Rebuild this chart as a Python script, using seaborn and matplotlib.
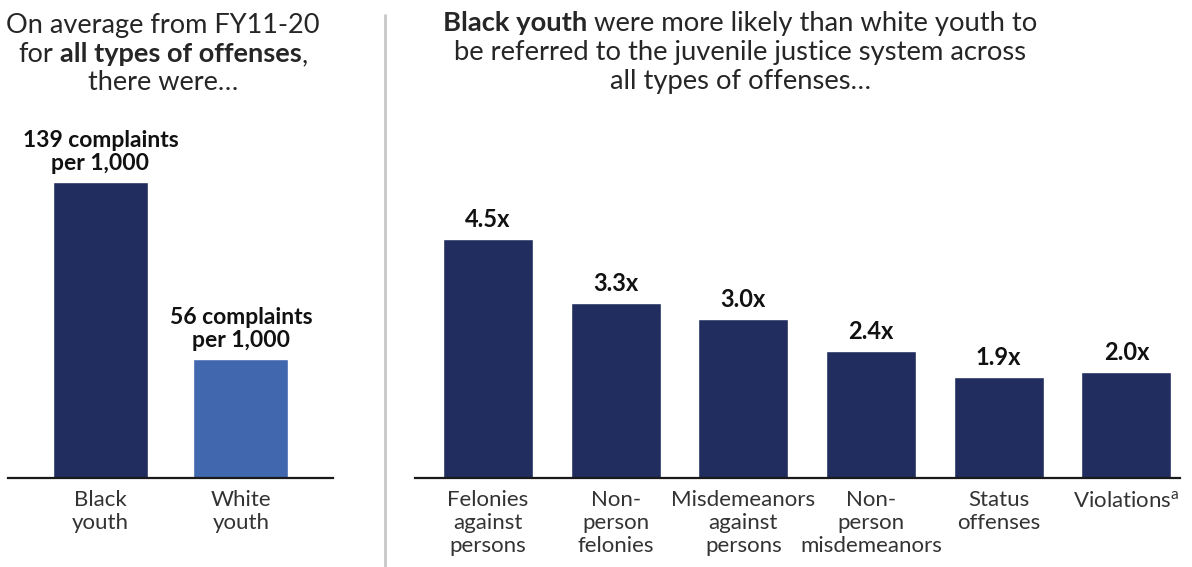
import matplotlib
matplotlib.use("Agg")
from matplotlib import pyplot as plt
from matplotlib.lines import Line2D
import pandas as pd
import seaborn as sns

# data
groups = ["Black\nyouth", "White\nyouth"]
rates = [139, 56]
rate_labels = ["139 complaints\nper 1,000", "56 complaints\nper 1,000"]

offenses = [
    "Felonies\nagainst\npersons",
    "Non-\nperson\nfelonies",
    "Misdemeanors\nagainst\npersons",
    "Non-\nperson\nmisdemeanors",
    "Status\noffenses",
    "Violations$^{\\mathrm{a}}$",
]
ratios = [4.5, 3.3, 3.0, 2.4, 1.9, 2.0]
ratio_labels = ["4.5x", "3.3x", "3.0x", "2.4x", "1.9x", "2.0x"]

NAVY = "#212D5E"
BLUE = "#4168AF"
TXT = "#262626"

sns.set_theme(style="white")
plt.rcParams["font.family"] = ["Lato", "DejaVu Sans"]
plt.rcParams["mathtext.fontset"] = "custom"
plt.rcParams["mathtext.rm"] = "Lato"

W, H = 1192, 567
fig = plt.figure(figsize=(W / 100, H / 100), dpi=100)


def px_axes(x0, x1, y_top, y_bot):
    return fig.add_axes([x0 / W, 1 - y_bot / H, (x1 - x0) / W, (y_bot - y_top) / H])


ax_l = px_axes(8, 333, 120, 478)
ax_r = px_axes(415, 1180, 120, 478)

df_l = pd.DataFrame({"group": groups, "rate": rates})
df_r = pd.DataFrame({"offense": offenses, "ratio": ratios})

sns.barplot(data=df_l, x="group", y="rate", hue="group", palette=[NAVY, BLUE],
            width=0.676, saturation=1, legend=False, ax=ax_l)
sns.barplot(data=df_r, x="offense", y="ratio", color=NAVY,
            width=0.705, saturation=1, ax=ax_r)

ax_l.set_xlim(-0.658, 1.655)
ax_l.set_ylim(0, 358 / 2.13)
ax_r.set_xlim(-0.572, 5.42)
ax_r.set_ylim(0, 358 / 53.1)

for ax in (ax_l, ax_r):
    ax.set_xlabel("")
    ax.set_ylabel("")
    ax.set_yticks([])
    for s in ("top", "right", "left"):
        ax.spines[s].set_visible(False)
    ax.spines["bottom"].set_color("#1a1a1a")
    ax.spines["bottom"].set_linewidth(1.6)
    ax.tick_params(axis="x", length=0, pad=9, labelsize=16, labelcolor="#333333")
    plt.setp(ax.get_xticklabels(), linespacing=1.18)
    ax.set_facecolor("none")

# value labels above bars
for i, (v, lab) in enumerate(zip(rates, rate_labels)):
    ax_l.annotate(lab, (i, v), xytext=(0, 8.5), textcoords="offset points",
                  ha="center", va="baseline", fontsize=16.5, fontweight="bold",
                  color="#111111", linespacing=1.12)
for i, (v, lab) in enumerate(zip(ratios, ratio_labels)):
    ax_r.annotate(lab, (i, v), xytext=(0, 8.5), textcoords="offset points",
                  ha="center", va="baseline", fontsize=17, fontweight="bold",
                  color="#111111")


# titles with mixed weights
fig.canvas.draw()
renderer = fig.canvas.get_renderer()


def mixed_line(xc, y_px, parts, size=19):
    texts = []
    for s, w in parts:
        texts.append(fig.text(0, 1 - y_px / H, s, fontsize=size, fontweight=w,
                              color=TXT, va="baseline", ha="left"))
    probe_a = fig.text(0, 0, "x x", fontsize=size)
    probe_b = fig.text(0, 0, "xx", fontsize=size)
    space = (probe_a.get_window_extent(renderer).width
             - probe_b.get_window_extent(renderer).width)
    probe_a.remove()
    probe_b.remove()
    widths = []
    for t, (s, w) in zip(texts, parts):
        t.set_text(s.strip())
        wd = t.get_window_extent(renderer).width if s.strip() else 0
        wd += space * (len(s) - len(s.lstrip())) + space * (len(s) - len(s.rstrip()))
        widths.append(wd)
    x = xc - sum(widths) / 2
    for t, (s, w), wd in zip(texts, parts, widths):
        t.set_x((x + space * (len(s) - len(s.lstrip()))) / W)
        x += wd


mixed_line(163, 33, [("On average from FY11-20", "normal")], size=19.5)
mixed_line(163, 62, [("for ", "normal"), ("all types of offenses", "bold"), (",", "normal")], size=19.5)
mixed_line(163, 90, [("there were…", "normal")], size=19.5)

mixed_line(740, 31, [("Black youth", "bold"), (" were more likely than white youth to", "normal")], size=19.7)
mixed_line(740, 60, [("be referred to the juvenile justice system across", "normal")], size=19.7)
mixed_line(740, 89, [("all types of offenses…", "normal")], size=19.7)

# divider
fig.add_artist(Line2D([385 / W, 385 / W], [0, 1 - 15 / H], transform=fig.transFigure,
                      color="#C8C8C8", lw=2))

fig.savefig("out.png", dpi=100)
